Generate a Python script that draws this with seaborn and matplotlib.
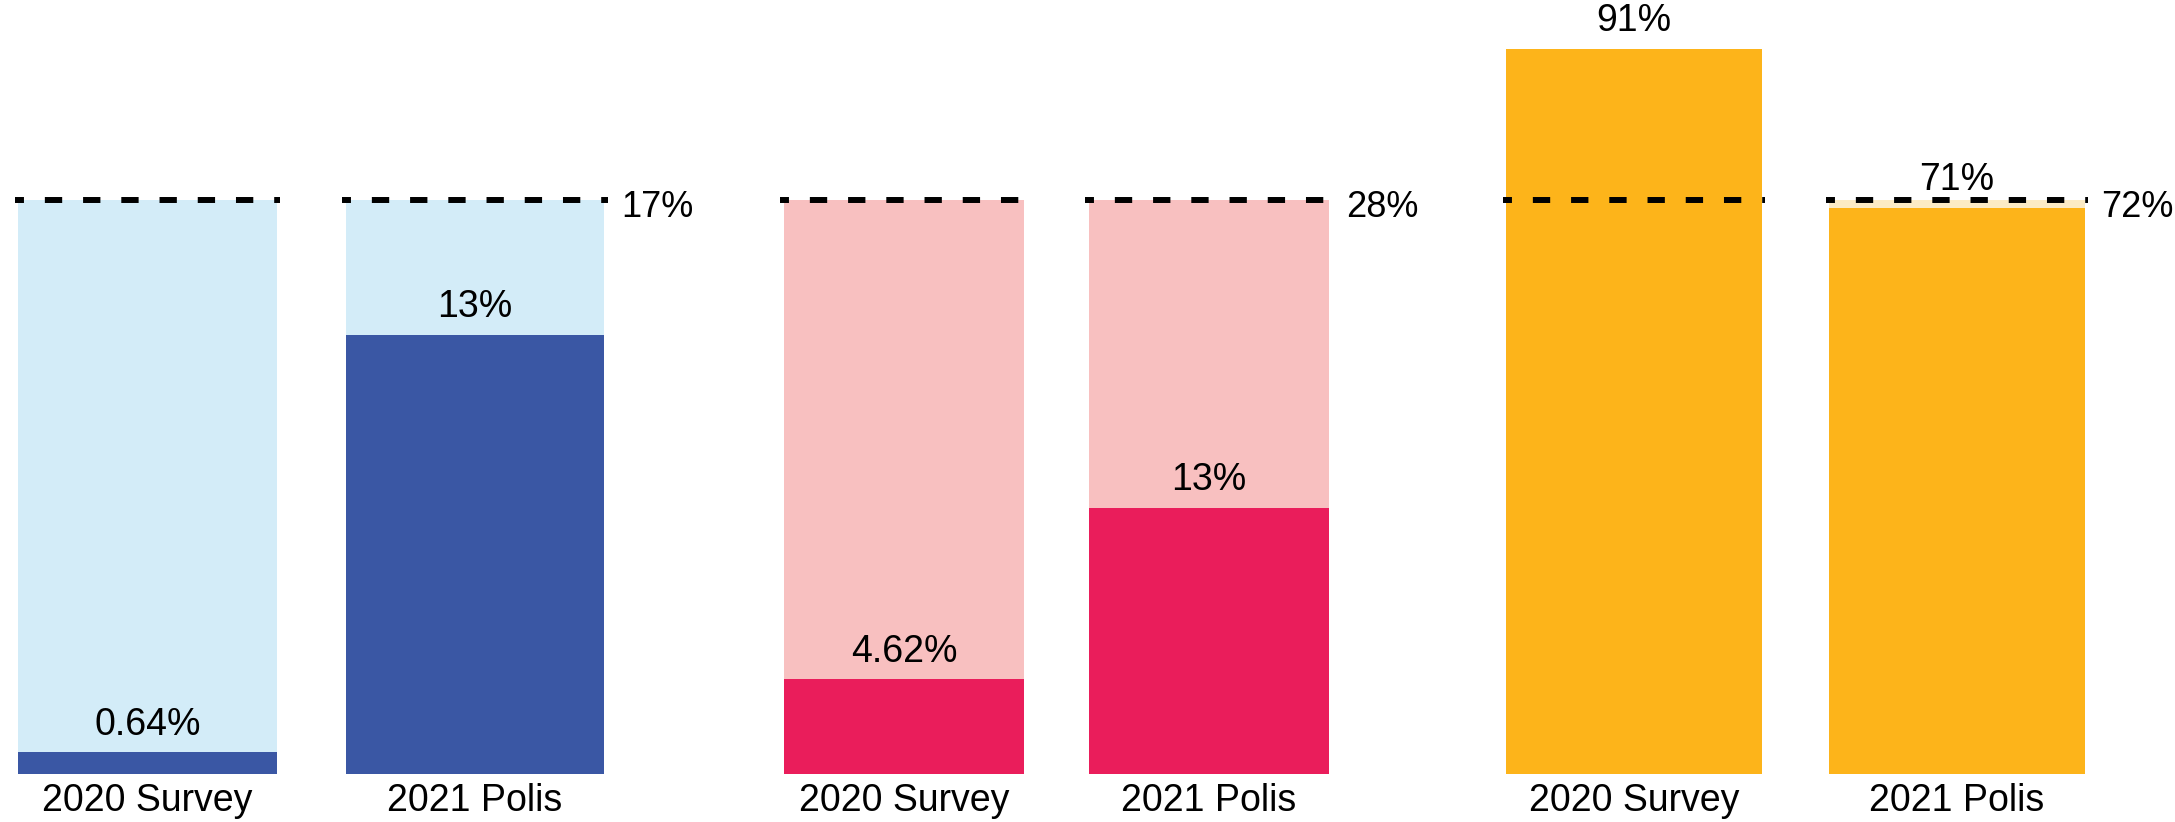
import pandas as pd
import matplotlib.pyplot as plt
import seaborn as sns

# DATA
groups = ["2020 Survey", "2021 Polis"]
reference = [17, 28, 72]
blue_vals = [0.64, 13]
pink_vals = [4.62, 13]
orange_vals = [91, 71]

light_colors = ["#D3ECF8", "#F8C0C0", "#FCEBC5"]
dark_colors = ["#3A57A4", "#EA1D5B", "#FDB41A"]

sns.set_style("white")
plt.rcParams["font.family"] = ["Liberation Sans", "DejaVu Sans"]
plt.rcParams["text.color"] = "black"
plt.rcParams["xtick.color"] = "black"

W, H = 2175, 822
fig = plt.figure(figsize=(W / 100, H / 100), dpi=100)

# layout in pixels: bottom of bars, reference line, first bar center, bar spacing
base_px, ref_px = 774, 200
y0 = (H - base_px) / H
yref = (H - ref_px) / H
panels = [(147.6, 327.4), (904, 305), (1634, 323)]
bar_w = 0.79

for i, vals in enumerate([blue_vals, pink_vals, orange_vals]):
    c0, s = panels[i]
    ax = fig.add_axes([(c0 - 0.47 * s) / W, y0, 2 * s / W, 1 - y0])
    df = pd.DataFrame({"group": groups, "value": vals, "ref": [reference[i]] * len(groups)})
    # light background up to the reference level
    sns.barplot(data=df, x="group", y="ref", color=light_colors[i], saturation=1,
                width=bar_w, errorbar=None, linewidth=0, ax=ax)
    sns.barplot(data=df, x="group", y="value", color=dark_colors[i], saturation=1,
                width=bar_w, errorbar=None, linewidth=0, ax=ax)
    ax.set_xlim(-0.47, 1.53)
    ax.set_ylim(0, reference[i] * (1 - y0) / (yref - y0))
    # dashed reference lines over each bar
    for j in range(len(groups)):
        ax.plot([j - bar_w / 2 - 0.01, j + bar_w / 2 + 0.01], [reference[i]] * 2, color="black",
                lw=4.3, ls=(1.4, (2.9, 3.5)), solid_capstyle="butt", dash_capstyle="butt")
        ax.annotate(f"{vals[j]:g}%", (j, vals[j]), xytext=(0, 7), textcoords="offset points",
                    ha="center", va="bottom", fontsize=27, color="black")
    ax.annotate(f"{reference[i]}%", (1 + bar_w / 2, reference[i]), xytext=(12, -12),
                textcoords="offset points", ha="left", va="baseline", fontsize=26, color="black")
    ax.set_xlabel("")
    ax.set_ylabel("")
    ax.set_yticks([])
    ax.tick_params(axis="x", length=0, pad=6.5, labelsize=27, labelcolor="black")
    sns.despine(ax=ax, left=True, bottom=True)
    ax.patch.set_alpha(0)

fig.savefig("out.png", dpi=100)
